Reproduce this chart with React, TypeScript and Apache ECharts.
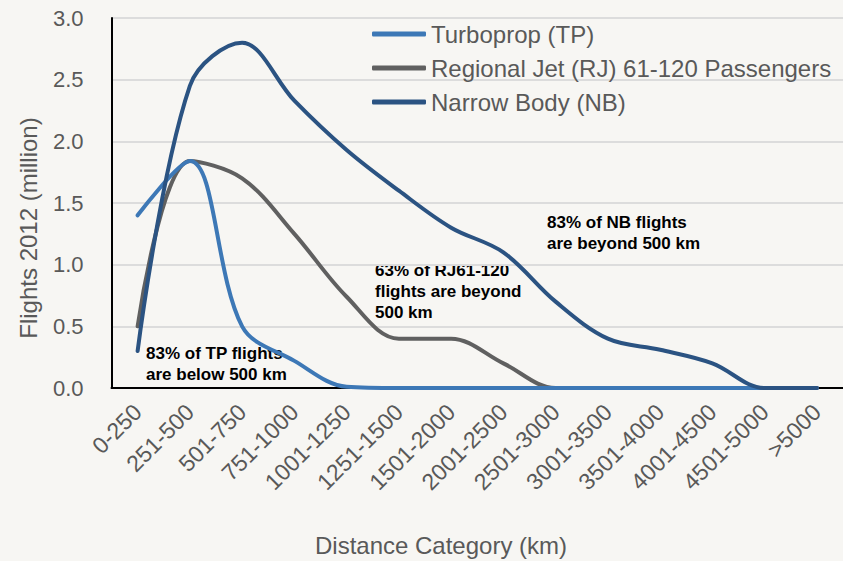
import React, { useEffect, useRef } from "react";
import * as echarts from "echarts";

const categories = [
  "0-250", "251-500", "501-750", "751-1000", "1001-1250", "1251-1500", "1501-2000",
  "2001-2500", "2501-3000", "3001-3500", "3501-4000", "4001-4500", "4501-5000", ">5000",
];
const turboprop = [1.4, 1.84, 0.5, 0.22, 0.01, 0, 0, 0, 0, 0, 0, 0, 0, 0];
const regionalJet = [0.5, 1.84, 1.7, 1.25, 0.74, 0.4, 0.4, 0.2, 0, 0, 0, 0, 0, 0];
const narrowBody = [0.3, 2.45, 2.8, 2.33, 1.93, 1.6, 1.3, 1.1, 0.7, 0.4, 0.31, 0.2, 0, 0];
const seriesNames = ["Turboprop (TP)", "Regional Jet (RJ) 61-120 Passengers", "Narrow Body (NB)"];
const yTicks = [0, 0.5, 1.0, 1.5, 2.0, 2.5, 3.0];

const FONT = "'Liberation Sans', Arial, Helvetica, sans-serif";
const GRAY = "#595959";
const COLORS = ["#3d78b6", "#606060", "#2b5382"];

export default function App() {
  const ref = useRef<HTMLDivElement>(null);
  useEffect(() => {
    if (!ref.current) return;
    const chart = echarts.init(ref.current, undefined, { renderer: "svg" });
    const mk = (name: string, data: number[], color: string, z: number) => ({
      name,
      type: "line",
      data,
      smooth: 0.35,
      symbol: "none",
      showSymbol: false,
      z,
      lineStyle: { color, width: 4, cap: "round" },
      itemStyle: { color },
    });
    chart.setOption({
      animation: false,
      backgroundColor: "#f7f6f3",
      textStyle: { fontFamily: FONT },
      grid: { left: 111.5, right: -10, top: 18, bottom: 173, containLabel: false },
      legend: {
        orient: "vertical",
        left: 372,
        top: 22,
        padding: 0,
        icon: "roundRect",
        itemWidth: 54,
        itemHeight: 5,
        itemGap: 10,
        data: seriesNames,
        textStyle: { color: GRAY, fontSize: 24, fontFamily: FONT },
      },
      xAxis: {
        type: "category",
        data: categories,
        boundaryGap: true,
        axisLine: { show: true, lineStyle: { color: "#000", width: 2 } },
        axisTick: { show: false },
        axisLabel: {
          rotate: 45,
          color: GRAY,
          fontSize: 23,
          fontFamily: FONT,
          margin: 20,
          interval: 0,
        },
      },
      yAxis: {
        type: "value",
        min: 0,
        max: 3,
        interval: 0.5,
        axisLine: { show: true, lineStyle: { color: "#000", width: 2 } },
        axisTick: { show: false },
        axisLabel: {
          color: GRAY,
          fontSize: 22,
          fontFamily: FONT,
          margin: 28,
          formatter: (v: number) => (yTicks.includes(v) ? v.toFixed(1) : ""),
        },
        splitLine: { show: true, lineStyle: { color: "#dcdcdc", width: 2 } },
      },
      series: [
        mk(seriesNames[0], turboprop, COLORS[0], 3),
        mk(seriesNames[1], regionalJet, COLORS[1], 2),
        mk(seriesNames[2], narrowBody, COLORS[2], 4),
      ],
      graphic: [
        {
          type: "text",
          x: 441,
          y: 545,
          style: {
            text: "Distance Category (km)",
            fill: GRAY,
            font: `24px ${FONT}`,
            align: "center",
            verticalAlign: "middle",
          },
        },
        {
          type: "text",
          x: 28,
          y: 228,
          rotation: Math.PI / 2,
          style: {
            text: "Flights 2012 (million)",
            fill: GRAY,
            font: `24px ${FONT}`,
            align: "center",
            verticalAlign: "middle",
          },
        },
        {
          type: "text",
          left: 146,
          top: 343,
          style: {
            text: "83% of TP flights\nare below 500 km",
            fill: "#000",
            font: `bold 17px ${FONT}`,
            lineHeight: 21,
          },
        },
        {
          type: "text",
          left: 375,
          top: 260,
          style: {
            text: "63% of RJ61-120\nflights are beyond\n500 km",
            fill: "#000",
            font: `bold 17px ${FONT}`,
            lineHeight: 21,
          },
        },
        {
          type: "text",
          left: 547,
          top: 212,
          style: {
            text: "83% of NB flights\nare beyond 500 km",
            fill: "#000",
            font: `bold 17px ${FONT}`,
            lineHeight: 21,
          },
        },
      ],
    });
    return () => chart.dispose();
  }, []);
  return <div ref={ref} style={{ width: 843, height: 561, position: "absolute", left: 0, top: 0 }} />;
}
